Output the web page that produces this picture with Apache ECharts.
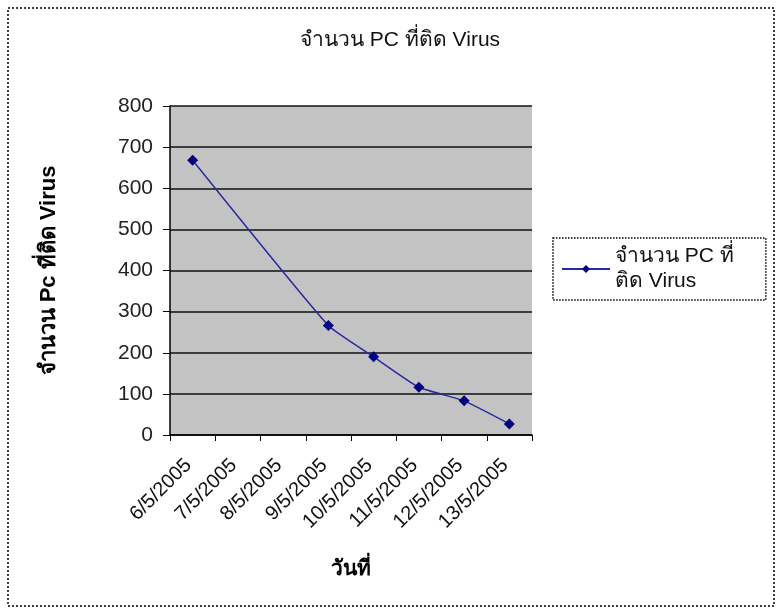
<!DOCTYPE html>
<html>
<head>
<meta charset="utf-8">
<script src="https://cdn.jsdelivr.net/npm/echarts@6/dist/echarts.min.js"></script>
<style>
  html, body { margin: 0; padding: 0; background: #fff; }
  #main { width: 782px; height: 614px; }
</style>
</head>
<body>
<div id="main"></div>
<script>
// ข้อมูลกราฟ
var dates = ['6/5/2005', '7/5/2005', '8/5/2005', '9/5/2005', '10/5/2005', '11/5/2005', '12/5/2005', '13/5/2005'];
var infected = [668, null, null, 266, 190, 116, 83, 27];
var yTicks = [0, 100, 200, 300, 400, 500, 600, 700, 800];

var seriesName = 'จำนวน PC ที่ติด Virus';
var fontFamily = 'Arial, "Liberation Sans", sans-serif';

var myChart = echarts.init(document.getElementById('main'));

var option = {
    backgroundColor: '#fff',
    animation: false,
    textStyle: { fontFamily: fontFamily },
    title: {
        text: seriesName,
        left: 395,
        top: 25,
        textAlign: 'center',
        textStyle: { fontSize: 21, fontWeight: 'normal', color: '#111', fontFamily: fontFamily }
    },
    legend: {
        data: [seriesName],
        left: 553,
        top: 238,
        padding: [6, 32, 6, 8],
        borderColor: '#000',
        borderWidth: 1.5,
        borderType: 'dotted',
        itemWidth: 48,
        itemHeight: 10,
        itemGap: 3,
        formatter: function () { return 'จำนวน PC ที่\nติด Virus'; },
        textStyle: { fontSize: 21, color: '#111', lineHeight: 25, fontFamily: fontFamily }
    },
    graphic: [{
        type: 'rect',
        shape: { x: 8, y: 8, width: 766, height: 598 },
        style: { fill: null, stroke: '#000', lineWidth: 1.5, lineDash: [2, 2] }
    }],
    grid: {
        left: 170,
        right: 250,
        top: 106,
        bottom: 179,
        show: true,
        backgroundColor: '#c3c3c3',
        borderWidth: 0
    },
    xAxis: {
        type: 'category',
        data: dates,
        boundaryGap: true,
        name: 'วันที่',
        nameLocation: 'middle',
        nameGap: 124,
        nameTextStyle: { fontSize: 21, fontWeight: 'bold', color: '#000', fontFamily: fontFamily },
        axisLine: { lineStyle: { color: '#000', width: 1.5 } },
        axisTick: { show: true, length: 6, lineStyle: { color: '#000' } },
        axisLabel: { rotate: 45, fontSize: 20, color: '#111', margin: 23, padding: [0, 6, 0, 0], interval: 0 },
        splitLine: { show: false }
    },
    yAxis: {
        type: 'value',
        min: yTicks[0],
        max: yTicks[yTicks.length - 1],
        interval: 100,
        name: 'จำนวน Pc ที่ติด Virus',
        nameLocation: 'middle',
        nameRotate: 90,
        nameGap: 110,
        nameTextStyle: { fontSize: 22, fontWeight: 'bold', color: '#000', fontFamily: fontFamily },
        axisLine: { show: true, lineStyle: { color: '#000', width: 1.5 } },
        axisTick: { show: true, length: 7, lineStyle: { color: '#000' } },
        axisLabel: { fontSize: 21, color: '#222', margin: 17 },
        splitLine: { show: true, lineStyle: { color: '#111', width: 1.5 } }
    },
    series: [{
        name: seriesName,
        type: 'line',
        data: infected,
        connectNulls: true,
        smooth: 0.15,
        symbol: 'diamond',
        symbolSize: 11,
        itemStyle: { color: '#000080' },
        lineStyle: { color: '#2a2aa0', width: 1.5 }
    }]
};

myChart.setOption(option);
</script>
</body>
</html>
